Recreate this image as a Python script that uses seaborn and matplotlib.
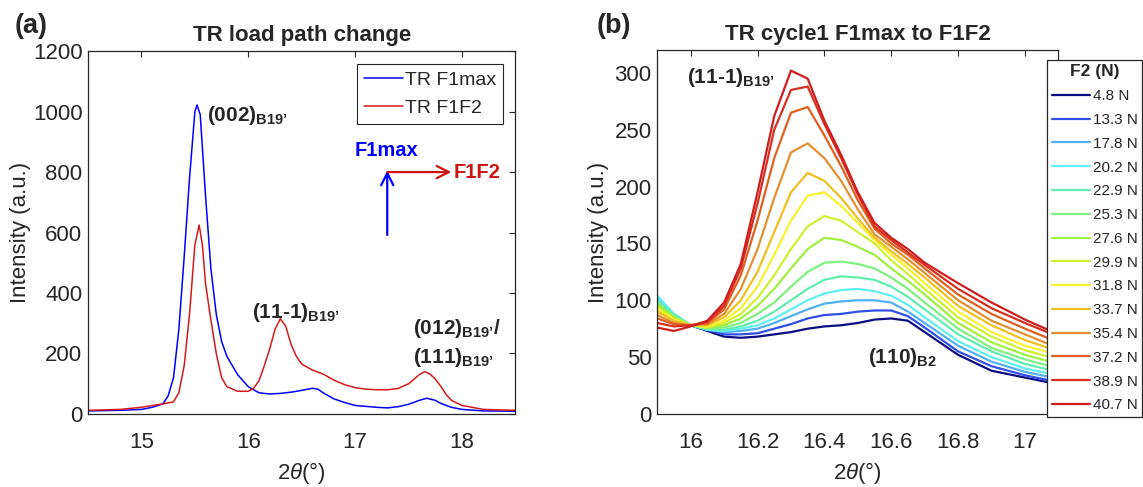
import numpy as np
import pandas as pd
import matplotlib
matplotlib.use("Agg")
import matplotlib.pyplot as plt
import seaborn as sns

# ---------------- data: panel (a) ----------------
a_x_f1max = [14.5, 14.8, 15.0, 15.1, 15.2, 15.25, 15.3, 15.35, 15.4, 15.45, 15.5, 15.52, 15.55, 15.6,
             15.65, 15.7, 15.75, 15.8, 15.85, 15.9, 16.0, 16.1, 16.2, 16.3, 16.4, 16.5, 16.6, 16.65,
             16.7, 16.8, 16.9, 17.0, 17.2, 17.3, 17.4, 17.5, 17.6, 17.67, 17.75, 17.8, 17.9, 18.0,
             18.2, 18.5]
a_y_f1max = [10, 12, 15, 22, 33, 60, 120, 280, 520, 780, 1000, 1022, 990, 720,
             480, 330, 240, 190, 160, 130, 90, 70, 66, 68, 72, 78, 85, 82,
             70, 50, 38, 28, 22, 20, 24, 32, 45, 52, 45, 35, 22, 15,
             10, 9]

a_x_f1f2 = [14.5, 14.8, 15.0, 15.1, 15.2, 15.3, 15.35, 15.4, 15.45, 15.5, 15.54, 15.57, 15.6, 15.65,
            15.7, 15.75, 15.8, 15.9, 16.0, 16.05, 16.1, 16.15, 16.2, 16.25, 16.3, 16.35, 16.4, 16.45,
            16.5, 16.6, 16.7, 16.8, 16.9, 17.0, 17.1, 17.2, 17.3, 17.4, 17.5, 17.55, 17.6, 17.65,
            17.7, 17.75, 17.8, 17.85, 17.9, 18.0, 18.2, 18.5]
a_y_f1f2 = [12, 15, 22, 28, 33, 40, 70, 160, 330, 560, 625, 560, 430, 310,
            200, 120, 90, 75, 75, 85, 110, 160, 215, 280, 315, 290, 230, 190,
            165, 145, 132, 112, 97, 87, 82, 80, 80, 84, 100, 115, 130, 140,
            132, 115, 92, 65, 45, 28, 15, 12]

# ---------------- data: panel (b) ----------------
b_x = [15.90, 15.95, 16.00, 16.05, 16.10, 16.15, 16.20, 16.25, 16.30, 16.35, 16.40, 16.45,
       16.50, 16.55, 16.60, 16.65, 16.70, 16.80, 16.90, 17.00, 17.10]
f2_labels = ["4.8 N", "13.3 N", "17.8 N", "20.2 N", "22.9 N", "25.3 N", "27.6 N",
             "29.9 N", "31.8 N", "33.7 N", "35.4 N", "37.2 N", "38.9 N", "40.7 N"]
f2_colors = ["#0c0c82", "#3050e6", "#50b0f2", "#60f0f0", "#60eeb0", "#80f080", "#a0f040",
             "#d0f030", "#f8f030", "#f0c020", "#e39030", "#e06020", "#d83020", "#d01e1e"]
b_y_4_8 = [97, 85, 78, 73, 68, 67, 68, 70, 72, 75, 77, 78, 80, 83, 84, 82, 72, 52, 38, 32, 26]
b_y_13_3 = [98, 86, 78, 74, 70, 70, 71, 75, 79, 84, 87, 88, 90, 91, 91, 86, 76, 55, 42, 34, 28]
b_y_17_8 = [103, 88, 78, 74, 72, 73, 75, 80, 86, 92, 97, 99, 100, 100, 98, 90, 80, 60, 46, 37, 31]
b_y_20_2 = [104, 88, 78, 74, 73, 75, 78, 84, 92, 100, 106, 109, 110, 108, 104, 96, 85, 64, 50, 40, 34]
b_y_22_9 = [100, 87, 78, 75, 74, 77, 82, 90, 100, 110, 118, 121, 120, 118, 112, 103, 92, 70, 55, 44, 37]
b_y_25_3 = [98, 86, 78, 75, 76, 80, 88, 98, 112, 125, 133, 134, 132, 128, 120, 110, 98, 75, 58, 48, 40]
b_y_27_6 = [96, 85, 78, 76, 78, 84, 95, 110, 128, 145, 155, 153, 147, 140, 128, 117, 105, 80, 63, 52, 44]
b_y_29_9 = [94, 84, 78, 76, 80, 88, 102, 122, 145, 165, 174, 170, 160, 150, 135, 123, 110, 85, 68, 56, 48]
b_y_31_8 = [92, 83, 78, 77, 82, 93, 112, 140, 170, 192, 195, 183, 168, 153, 140, 128, 115, 90, 72, 60, 52]
b_y_33_7 = [90, 82, 78, 78, 85, 100, 125, 160, 195, 212, 205, 190, 172, 155, 143, 132, 120, 95, 78, 65, 55]
b_y_35_4 = [87, 80, 78, 79, 88, 110, 145, 190, 230, 238, 225, 205, 180, 158, 147, 136, 124, 100, 82, 70, 58]
b_y_37_2 = [84, 79, 78, 80, 92, 122, 170, 225, 265, 270, 245, 218, 188, 163, 150, 140, 128, 105, 88, 75, 63]
b_y_38_9 = [80, 77, 78, 81, 95, 128, 185, 250, 285, 288, 255, 225, 193, 165, 153, 142, 131, 110, 93, 80, 68]
b_y_40_7 = [76, 73, 77, 82, 98, 132, 195, 262, 302, 295, 258, 228, 195, 168, 155, 145, 133, 115, 98, 83, 70]
b_series = [b_y_4_8, b_y_13_3, b_y_17_8, b_y_20_2, b_y_22_9, b_y_25_3, b_y_27_6,
            b_y_29_9, b_y_31_8, b_y_33_7, b_y_35_4, b_y_37_2, b_y_38_9, b_y_40_7]

a_xticks = [15, 16, 17, 18]
a_yticks = [0, 200, 400, 600, 800, 1000, 1200]
b_xticks = [16, 16.2, 16.4, 16.6, 16.8, 17]
b_xticklabels = ["16", "16.2", "16.4", "16.6", "16.8", "17"]
b_yticks = [0, 50, 100, 150, 200, 250, 300]

Q = "\u2019"


def peak_label(main, sub):
    """Bold text with a bold subscript, e.g. (002)_B19'."""
    return main + "$_{\\mathbf{" + sub + "}}$"


# ---------------- style ----------------
sns.set_theme(style="white")
plt.rcParams["font.family"] = ["Liberation Sans", "DejaVu Sans"]
plt.rcParams["mathtext.fontset"] = "custom"
plt.rcParams["mathtext.rm"] = "Liberation Sans"
plt.rcParams["mathtext.bf"] = "Liberation Sans:bold"
plt.rcParams["mathtext.it"] = "Liberation Sans:italic"
plt.rcParams["mathtext.default"] = "regular"
plt.rcParams["axes.linewidth"] = 0.9

fig = plt.figure(figsize=(11.43, 4.87), dpi=100)
axA = fig.add_axes([0.077, 0.150, 0.374, 0.745])
axB = fig.add_axes([0.575, 0.150, 0.351, 0.747])

TXT = "#262626"


def style_axes(ax):
    for s in ax.spines.values():
        s.set_color(TXT)
        s.set_visible(True)
    ax.tick_params(direction="in", top=True, right=True, length=4.5, width=0.8,
                   colors=TXT, labelsize=16)
    ax.tick_params(axis="x", pad=13)
    ax.tick_params(axis="y", pad=4)


# ---------------- panel (a) ----------------
dfa1 = pd.DataFrame({"x": a_x_f1max, "y": a_y_f1max})
dfa2 = pd.DataFrame({"x": a_x_f1f2, "y": a_y_f1f2})
sns.lineplot(data=dfa1, x="x", y="y", ax=axA, color="#0000ff", lw=1.1, label="TR F1max",
             estimator=None, sort=False)
sns.lineplot(data=dfa2, x="x", y="y", ax=axA, color="#d41a1a", lw=1.1, label="TR F1F2",
             estimator=None, sort=False)
axA.set_xlim(14.5, 18.5)
axA.set_ylim(0, 1200)
axA.set_xticks(a_xticks)
axA.set_yticks(a_yticks)
axA.set_xlabel("2$\\it{\\theta}$(°)", fontsize=16, color=TXT, labelpad=5)
axA.set_ylabel("Intensity (a.u.)", fontsize=16, color=TXT, labelpad=1)
axA.set_title("TR load path change", fontsize=16, fontweight="bold", pad=7)
style_axes(axA)
legA = axA.legend(loc="upper right", bbox_to_anchor=(0.970, 0.964), fontsize=14,
                  frameon=True, fancybox=False, edgecolor=TXT, framealpha=1,
                  handlelength=2.0, handletextpad=0.1, borderpad=0.35, labelspacing=0.55,
                  borderaxespad=0)
legA.get_frame().set_linewidth(0.8)

axA.text(15.61, 988, peak_label("(002)", "B19" + Q), fontsize=15, fontweight="bold",
         va="center", ha="left")
axA.text(16.03, 337, peak_label("(11-1)", "B19" + Q), fontsize=15, fontweight="bold",
         va="center", ha="left")
axA.text(17.54, 282, peak_label("(012)", "B19" + Q) + "/", fontsize=15, fontweight="bold",
         va="center", ha="left")
axA.text(17.54, 188, peak_label("(111)", "B19" + Q), fontsize=15, fontweight="bold",
         va="center", ha="left")
axA.text(17.29, 870, "F1max", color="#0000ff", fontsize=14.5, fontweight="bold",
         ha="center", va="center")
axA.text(17.92, 800, "F1F2", color="#cc1414", fontsize=14.5, fontweight="bold",
         ha="left", va="center")
axA.annotate("", xy=(17.30, 805), xytext=(17.30, 592),
             arrowprops=dict(arrowstyle="->", color="#0000ff", lw=1.6, mutation_scale=22,
                             shrinkA=0, shrinkB=0))
axA.annotate("", xy=(17.90, 800), xytext=(17.30, 800),
             arrowprops=dict(arrowstyle="->", color="#cc1414", lw=1.6, mutation_scale=22,
                             shrinkA=0, shrinkB=0))

# ---------------- panel (b) ----------------
for lab, col, ys in zip(f2_labels, f2_colors, b_series):
    dfb = pd.DataFrame({"x": b_x, "y": ys})
    sns.lineplot(data=dfb, x="x", y="y", ax=axB, color=col, lw=1.6, label=lab,
                 estimator=None, sort=False)
axB.set_xlim(15.9, 17.1)
axB.set_ylim(0, 320)
axB.set_xticks(b_xticks)
axB.set_xticklabels(b_xticklabels)
axB.set_yticks(b_yticks)
axB.set_xlabel("2$\\it{\\theta}$(°)", fontsize=16, color=TXT, labelpad=5)
axB.set_ylabel("Intensity (a.u.)", fontsize=16, color=TXT, labelpad=4)
axB.set_title("TR cycle1 F1max to F1F2", fontsize=16, fontweight="bold", pad=7)
style_axes(axB)
axB.legend_.remove()
handles, labels = axB.get_legend_handles_labels()
legB = fig.legend(handles, labels, loc="upper left", bbox_to_anchor=(0.916, 0.877),
                  fontsize=11, title="F2 (N)", title_fontproperties={"weight": "bold", "size": 12.5},
                  frameon=True, fancybox=False, edgecolor=TXT, framealpha=1,
                  handlelength=2.5, handletextpad=0.2, borderpad=0.3, labelspacing=0.64,
                  borderaxespad=0)
legB.get_frame().set_linewidth(0.9)

axB.text(15.99, 296, peak_label("(11-1)", "B19" + Q), fontsize=15, fontweight="bold",
         va="center", ha="left")
axB.text(16.53, 50, peak_label("(110)", "B2"), fontsize=15, fontweight="bold",
         va="center", ha="left")

fig.text(0.013, 0.947, "(a)", fontsize=19.5, fontweight="bold", va="center")
fig.text(0.522, 0.947, "(b)", fontsize=19.5, fontweight="bold", va="center")

fig.savefig("out.png", dpi=100)
